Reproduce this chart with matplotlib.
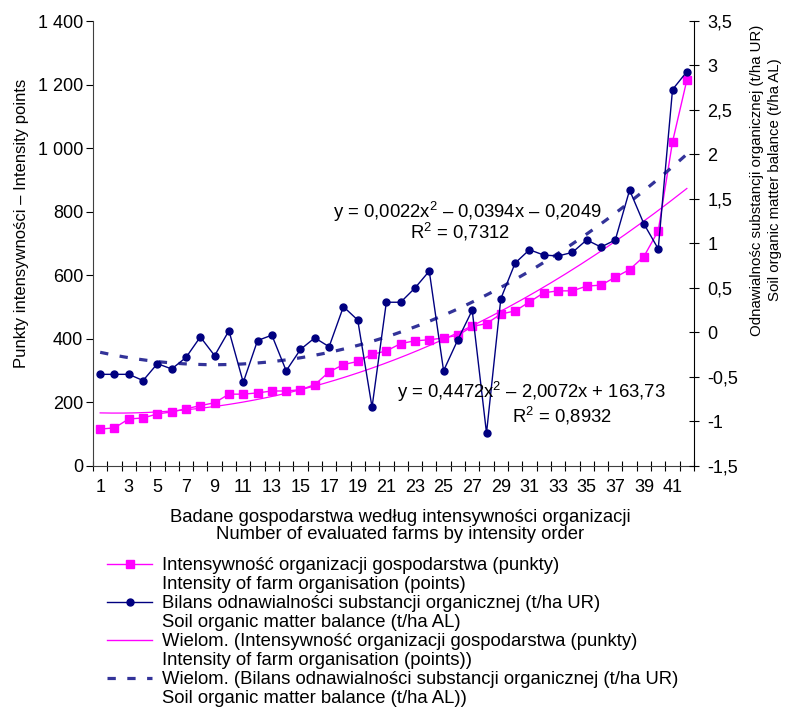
import numpy as np
import matplotlib
matplotlib.use("Agg")
from matplotlib import pyplot as plt
from matplotlib.lines import Line2D
from matplotlib.ticker import FuncFormatter, MultipleLocator

plt.rcParams['font.family'] = ['Liberation Sans', 'DejaVu Sans']
plt.rcParams['font.size'] = 13
plt.rcParams['mathtext.fontset'] = 'custom'
plt.rcParams['mathtext.rm'] = 'Liberation Sans'

# farm number (ordered by intensity)
farms = np.arange(1, 43)

# intensity of farm organisation (points), left axis
intensity = [116, 120, 148, 151, 164, 170, 180, 190, 199, 226,
             226, 230, 236, 236, 240, 256, 296, 319, 329, 351,
             362, 385, 394, 397, 403, 411, 439, 448, 478, 488,
             516, 545, 551, 551, 566, 569, 594, 618, 659, 740,
             1020, 1214]

# soil organic matter balance (t/ha), right axis
balance = [-0.47, -0.47, -0.47, -0.54, -0.35, -0.41, -0.28, -0.05, -0.26, 0.02,
           -0.56, -0.09, -0.03, -0.43, -0.19, -0.06, -0.16, 0.29, 0.14, -0.84,
           0.34, 0.34, 0.50, 0.69, -0.43, -0.08, 0.25, -1.13, 0.38, 0.78,
           0.93, 0.87, 0.86, 0.90, 1.04, 0.96, 1.04, 1.60, 1.22, 0.94,
           2.73, 2.93]

lab_int = "Intensywność organizacji gospodarstwa (punkty)"
lab_int_en = "Intensity of farm organisation (points)"
lab_bal = "Bilans odnawialności substancji organicznej (t/ha UR)"
lab_bal_en = "Soil organic matter balance (t/ha AL)"

eq_int = "y = 0,4472x$^{\\mathrm{2}}$ – 2,0072x + 163,73"
r2_int = "R$^{\\mathrm{2}}$ = 0,8932"
eq_bal = "y = 0,0022x$^{\\mathrm{2}}$ – 0,0394x – 0,2049"
r2_bal = "R$^{\\mathrm{2}}$ = 0,7312"

MAG = "#FF00FF"
NAVY = "#000080"
TREND = "#333399"

fig = plt.figure(figsize=(7.87, 7.10), dpi=100)
ax = fig.add_axes([93/787, 1-466/710, (694-93)/787, (466-21)/710])
ax2 = ax.twinx()

# polynomial trend lines (2nd order, like the spreadsheet)
xs = np.linspace(1, 42, 200)
p_int = np.polyfit(farms, intensity, 2)
p_bal = np.polyfit(farms, balance, 2)

ax.plot(xs, np.polyval(p_int, xs), color=MAG, lw=0.9)
ax.plot(farms, intensity, color=MAG, lw=1.0, marker='s', ms=5.5, mec=MAG, mfc=MAG)

ax2.plot(xs, np.polyval(p_bal, xs), color=TREND, lw=2.3, dashes=(2.6, 3.6))
ax2.plot(farms, balance, color=NAVY, lw=1.0, marker='o', ms=5, mec=NAVY, mfc=NAVY)

ax.set_xlim(0.5, 42.5)
ax.set_ylim(0, 1400)
ax2.set_ylim(-1.5, 3.5)

ax.set_xticks(np.arange(1, 42, 2))
ax.set_xticks(np.arange(0.5, 43, 1), minor=True)
ax.tick_params(axis='x', which='major', length=0, pad=9)
ax.tick_params(axis='x', which='minor', direction='inout', length=7, width=0.8)
ax.yaxis.set_major_locator(MultipleLocator(200))
ax.yaxis.set_major_formatter(FuncFormatter(lambda v, p: f"{int(v):,}".replace(",", " ")))
ax.tick_params(axis='y', direction='out', length=5, width=0.8, pad=2)

ax2.yaxis.set_major_locator(MultipleLocator(0.5))
ax2.yaxis.set_major_formatter(FuncFormatter(lambda v, p: f"{v:g}".replace(".", ",")))
ax2.tick_params(axis='y', direction='inout', length=7, width=0.8, pad=6)

for a in (ax, ax2):
    a.spines['top'].set_visible(False)
ax.spines['right'].set_visible(False)
for s in ('left', 'bottom'):
    ax.spines[s].set_color('#404040')
ax2.spines['right'].set_color('black')
ax2.spines['left'].set_visible(False)
ax2.spines['bottom'].set_visible(False)

fig.text(22/787, 1-223/710, "Punkty intensywności – Intensity points",
         rotation=90, ha='center', va='center', fontsize=12)

fig.text(766/787, 1-180/710,
         "Odnawialnośc substancji organicznej (t/ha UR)\nSoil organic matter balance (t/ha AL)",
         rotation=90, ha='center', va='center', multialignment='center',
         linespacing=1.3, fontsize=10.8)

fig.text(400/787, 1-526/710,
         "Badane gospodarstwa według intensywności organizacji\nNumber of evaluated farms by intensity order",
         ha='center', va='center', multialignment='center', linespacing=1.0, fontsize=13.3)

fig.text(333/787, 1-212/710, eq_bal, ha='left', va='center', fontsize=13.3)
fig.text(460/787, 1-232/710, r2_bal, ha='center', va='center', fontsize=13.3)
fig.text(531/787, 1-392/710, eq_int, ha='center', va='center', fontsize=13.3)
fig.text(562/787, 1-416/710, r2_int, ha='center', va='center', fontsize=13.3)

blank = Line2D([], [], color='none')
handles = [Line2D([], [], color=MAG, lw=1, marker='s', ms=5.5), blank,
           Line2D([], [], color=NAVY, lw=1, marker='o', ms=5), blank,
           Line2D([], [], color=MAG, lw=1), blank,
           Line2D([], [], color=TREND, lw=2.3, dashes=(2.6, 3.6)), blank]
labels = [lab_int, lab_int_en, lab_bal, lab_bal_en,
          "Wielom. (" + lab_int, lab_int_en + ")",
          "Wielom. (" + lab_bal, lab_bal_en + ")"]
fig.legend(handles, labels, loc='upper left', bbox_to_anchor=(107/787, 1-557/710),
           frameon=False, labelspacing=0.11, handlelength=2.45, handletextpad=0.55,
           borderaxespad=0, borderpad=0, fontsize=13.3)

fig.savefig("out.png", dpi=100)
